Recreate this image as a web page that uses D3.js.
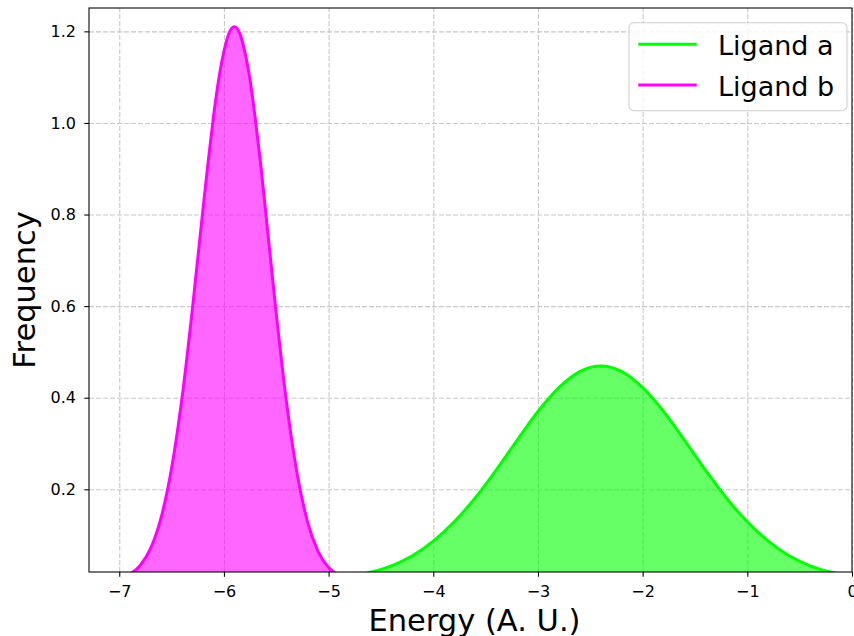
<!DOCTYPE html>
<html>
<head>
<meta charset="utf-8">
<script src="https://cdn.jsdelivr.net/npm/d3@7"></script>
<style>
  body { margin: 0; background: #fff; }
  text { font-family: "DejaVu Sans", sans-serif; }
  .grid line { stroke: #c8c8c8; stroke-dasharray: 5,2; stroke-width: 1.1; }
  .grid .domain { display: none; }
</style>
</head>
<body>
<div id="chart-area"></div>
<script>
// Data
var seriesNames = ["Ligand a", "Ligand b"];
var seriesColors = ["#00ff00", "#ff00ff"];

var energyA = [-4.8, -4.6, -4.4, -4.2, -4.0, -3.8, -3.6, -3.4, -3.2, -3.0, -2.8, -2.6, -2.4,
               -2.2, -2.0, -1.8, -1.6, -1.4, -1.2, -1.0, -0.8, -0.6, -0.4, -0.2, 0.0];
var freqA = [0.010, 0.019, 0.033, 0.055, 0.087, 0.129, 0.181, 0.242, 0.307, 0.370, 0.422, 0.457, 0.469,
             0.457, 0.422, 0.370, 0.307, 0.242, 0.181, 0.129, 0.087, 0.055, 0.033, 0.019, 0.010];

var energyB = [-6.9, -6.8, -6.7, -6.6, -6.5, -6.4, -6.3, -6.2, -6.15, -6.1, -6.05, -6.0, -5.95, -5.9,
               -5.85, -5.8, -5.75, -5.7, -5.65, -5.6, -5.5, -5.4, -5.3, -5.2, -5.1, -5.0, -4.9];
var freqB = [0.014, 0.034, 0.071, 0.138, 0.246, 0.400, 0.596, 0.812, 0.916, 1.013, 1.095, 1.156, 1.197, 1.210,
             1.196, 1.155, 1.093, 1.008, 0.912, 0.803, 0.583, 0.386, 0.233, 0.128, 0.064, 0.029, 0.012];

var xTicks = [-7, -6, -5, -4, -3, -2, -1, 0];
var yTicks = [0.2, 0.4, 0.6, 0.8, 1.0, 1.2];

// Margins and size
var margin = { top: 8, right: 2, bottom: 64, left: 89 },
    width = 854 - margin.left - margin.right,
    height = 636 - margin.top - margin.bottom;

var svg = d3.select("#chart-area")
    .append("svg")
    .attr("width", 854)
    .attr("height", 636)
    .append("g")
    .attr("transform", "translate(" + margin.left + "," + margin.top + ")");

var xScale = d3.scaleLinear().domain([-7.289, 0.0]).range([0, width]);
var yScale = d3.scaleLinear().domain([0.0194, 1.251]).range([height, 0]);

// Grid lines
svg.append("g")
    .attr("class", "grid")
    .attr("transform", "translate(0," + height + ")")
    .call(d3.axisBottom(xScale).tickValues(xTicks).tickSize(-height).tickFormat(""));

svg.append("g")
    .attr("class", "grid")
    .call(d3.axisLeft(yScale).tickValues(yTicks).tickSize(-width).tickFormat(""));

// Clip to the plot area
svg.append("clipPath")
    .attr("id", "plot-clip")
    .append("rect")
    .attr("width", width)
    .attr("height", height);

var series = [
    energyA.map(function(e, i) { return { x: e, y: freqA[i] }; }),
    energyB.map(function(e, i) { return { x: e, y: freqB[i] }; })
];

var plot = svg.append("g").attr("clip-path", "url(#plot-clip)");

series.forEach(function(data, i) {
    var area = d3.area()
        .x(function(d) { return xScale(d.x); })
        .y0(yScale(0))
        .y1(function(d) { return yScale(d.y); })
        .curve(d3.curveMonotoneX);
    var line = d3.line()
        .x(function(d) { return xScale(d.x); })
        .y(function(d) { return yScale(d.y); })
        .curve(d3.curveMonotoneX);

    plot.append("path")
        .datum(data)
        .attr("d", area)
        .attr("fill", seriesColors[i])
        .attr("fill-opacity", 0.6);

    plot.append("path")
        .datum(data)
        .attr("d", line)
        .attr("fill", "none")
        .attr("stroke", seriesColors[i])
        .attr("stroke-width", 3)
        .attr("stroke-linejoin", "round");
});

// Axes
var xAxis = svg.append("g")
    .attr("transform", "translate(0," + height + ")")
    .call(d3.axisBottom(xScale).tickValues(xTicks).tickSize(4.7).tickPadding(9.4)
        .tickFormat(function(d) { return d < 0 ? "\u2212" + Math.abs(d) : d; }));

var yAxis = svg.append("g")
    .call(d3.axisLeft(yScale).tickValues(yTicks).tickSize(4.7).tickPadding(8.3)
        .tickFormat(d3.format(".1f")));

[xAxis, yAxis].forEach(function(ax) {
    ax.selectAll("text").style("font-size", "16px").attr("fill", "#000");
    ax.selectAll("line").attr("stroke", "#000").attr("stroke-width", 1.07);
    ax.select(".domain").remove();
});

// Frame
svg.append("rect")
    .attr("width", width)
    .attr("height", height)
    .attr("fill", "none")
    .attr("stroke", "#000")
    .attr("stroke-width", 1.07);

// Axis labels
svg.append("text")
    .attr("x", width / 2 + 4)
    .attr("y", height + 59)
    .attr("text-anchor", "middle")
    .style("font-size", "30.5px")
    .text("Energy (A. U.)");

svg.append("text")
    .attr("transform", "rotate(-90)")
    .attr("x", -height / 2)
    .attr("y", -54)
    .attr("text-anchor", "middle")
    .style("font-size", "30.5px")
    .text("Frequency");

// Legend
var legend = svg.append("g")
    .attr("transform", "translate(" + (width - 223) + ",14.7)");

legend.append("rect")
    .attr("width", 218)
    .attr("height", 88)
    .attr("rx", 5)
    .attr("fill", "#fff")
    .attr("fill-opacity", 0.8)
    .attr("stroke", "#d0d0d0")
    .attr("stroke-width", 1.1);

seriesNames.forEach(function(name, i) {
    var g = legend.append("g").attr("transform", "translate(0," + (21.6 + i * 40.7) + ")");
    g.append("line")
        .attr("x1", 9.3)
        .attr("x2", 67.7)
        .attr("stroke", seriesColors[i])
        .attr("stroke-width", 3);
    g.append("text")
        .attr("x", 89)
        .attr("y", 10.5)
        .style("font-size", "27px")
        .text(name);
});
</script>
</body>
</html>
